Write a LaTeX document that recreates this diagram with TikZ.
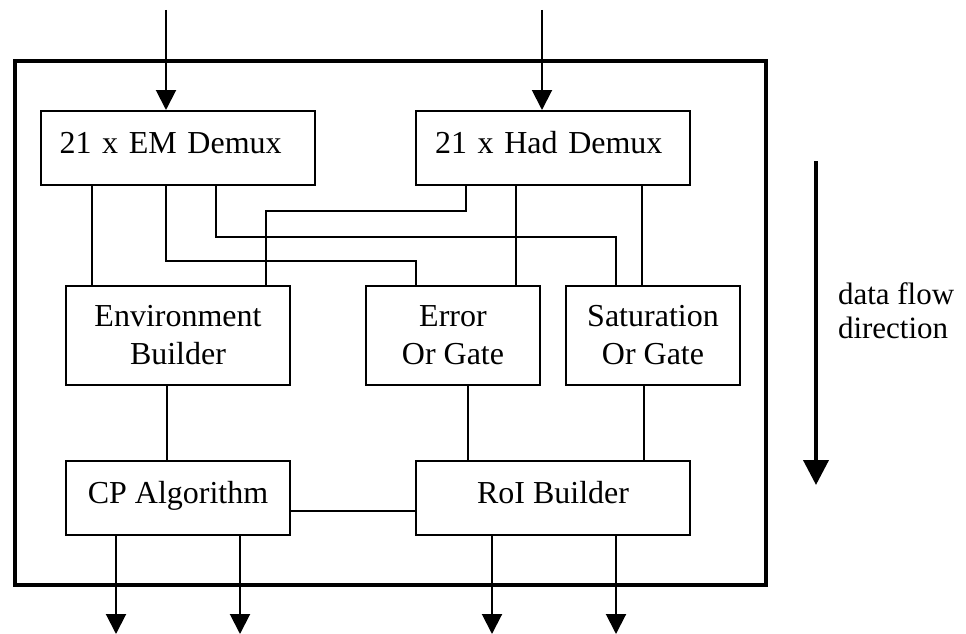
\documentclass[tikz,border=0pt]{standalone}
\usepackage{fontspec}
\setmainfont{Liberation Serif}
\usetikzlibrary{arrows.meta}

\begin{document}
\begin{tikzpicture}[x=1pt,y=-1pt,
		line width=2pt,
		blk/.style={draw, line width=2pt, inner sep=0pt, font=\fontsize{32}{38}\selectfont,
			text height=22pt, text depth=12pt},
		demux/.style={blk, align=left, text width=236pt, inner xsep=19pt, minimum height=74pt},
		gate/.style={draw, line width=2pt, inner sep=0pt, align=center,
			font=\fontsize{32}{38}\selectfont, minimum height=99pt},
		flow/.style={-{Triangle[length=20pt,width=20pt]}, line width=2pt}]
		\useasboundingbox (0,0) rectangle (966,634);
		% frame
		\draw[line width=4pt] (15,61) rectangle (766,585);
		
		\node[demux] (em) at (177.5,148) {21 x EM Demux};
		\node[demux] (had) at (553,148) {21 x Had Demux};
		\node[gate, minimum width=224pt] (env) at (178,335.5) {Environment\\Builder};
		\node[gate, minimum width=174pt] (err) at (453,335.5) {Error\\Or Gate};
		\node[gate, minimum width=174pt] (sat) at (653,335.5) {Saturation\\Or Gate};
		\node[blk, minimum width=224pt, minimum height=74pt] (cp) at (178,498) {CP Algorithm};
		\node[blk, minimum width=274pt, minimum height=74pt] (roi) at (553,498) {RoI Builder};
		
		% inputs
		\coordinate (inEM) at (166,10);
		\coordinate (inHad) at (542,10);
		\draw[flow] (inEM) -- (inEM |- em.north);
		\draw[flow] (inHad) -- (inHad |- had.north);
		
		% demux to middle row
		\draw (em.south -| 92,0) -- (env.north -| 92,0);
		\draw (em.south -| 166,0) |- (416,261) -- (err.north -| 416,0);
		\draw (em.south -| 216,0) |- (616,237) -- (sat.north -| 616,0);
		\draw (had.south -| 466,0) |- (266,211) -- (env.north -| 266,0);
		\draw (had.south -| 516,0) -- (err.north -| 516,0);
		\draw (had.south -| 642,0) -- (sat.north -| 642,0);
		
		% middle row to bottom row
		\draw (env.south -| 167,0) -- (cp.north -| 167,0);
		\draw (err.south -| 468,0) -- (roi.north -| 468,0);
		\draw (sat.south -| 644,0) -- (roi.north -| 644,0);
		\draw (cp.east |- 0,511) -- (roi.west |- 0,511);
		
		% outputs
		\foreach \x/\src in {116/cp,240/cp,492/roi,616/roi}{
			\coordinate (out) at (\x,634);
			\draw[flow] (\src.south -| out) -- (out);
		}
		
		% direction
		\coordinate (dirTop) at (816,161);
		\coordinate (dirEnd) at (816,485);
		\draw[-{Triangle[length=25pt,width=25pt]}, line width=4pt] (dirTop) -- (dirEnd);
		\node[anchor=north west, inner sep=0pt, align=left, font=\fontsize{31}{34}\selectfont]
			(dirlbl) at (837,282) {data flow\\direction};
	\end{tikzpicture}
\end{document}
